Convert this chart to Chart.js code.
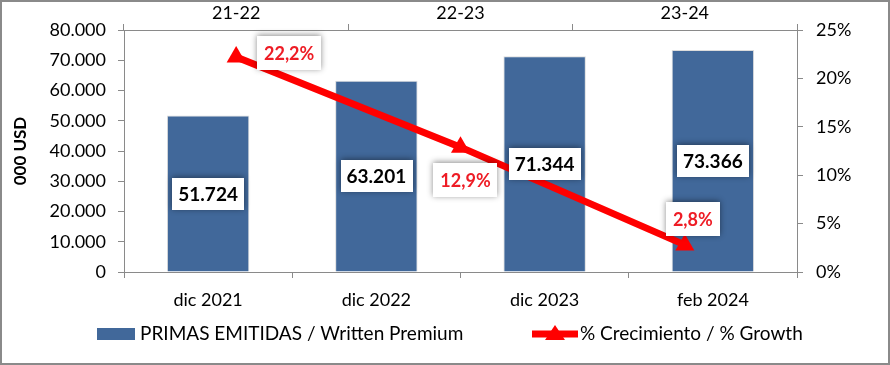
<!DOCTYPE html>
<html><head><meta charset="utf-8">
<script src="https://cdn.jsdelivr.net/npm/chart.js@4.4.1/dist/chart.umd.min.js"></script>
<style>html,body{margin:0;padding:0;background:#fff;overflow:hidden}canvas{display:block}</style>
</head><body>
<canvas id="c" width="890" height="365"></canvas>
<script>
// ---- data ----
const categories = ['dic 2021', 'dic 2022', 'dic 2023', 'feb 2024'];
const periods = ['21-22', '22-23', '23-24'];
const premiums = [51724, 63201, 71344, 73366];
const growth = [22.2, 12.9, 2.8];
const premiumLabel = 'PRIMAS EMITIDAS / Written Premium';
const growthLabel = '% Crecimiento / % Growth';
const yTitle = '000 USD';

// ---- style ----
const FONT = 'Lato';
const BAR_COLOR = '#41689A';
const LINE_COLOR = '#FF0000';
const LABEL_RED = '#EE1C25';
const AXIS_GRAY = '#8a8a8a';
const growthLabelOffsets = [[53, -4], [5, 33], [8, -26]];

Chart.defaults.font.family = FONT;
Chart.defaults.color = '#000';

const fmtThousands = v => String(Math.round(v)).replace(/\B(?=(\d{3})+(?!\d))/g, '.');
const fmtPct = v => v.toFixed(1).replace('.', ',') + '%';

function drawBox(ctx, text, cx, cy, color, font, padX, h) {
  ctx.save();
  ctx.font = font;
  const w = ctx.measureText(text).width + padX * 2;
  ctx.shadowColor = 'rgba(0,0,0,0.45)';
  ctx.shadowBlur = 6;
  ctx.shadowOffsetX = 0;
  ctx.shadowOffsetY = -1;
  ctx.fillStyle = '#fff';
  ctx.fillRect(Math.round(cx - w / 2), Math.round(cy - h / 2), Math.round(w), h);
  ctx.shadowColor = 'transparent';
  ctx.fillStyle = color;
  ctx.textAlign = 'center';
  ctx.textBaseline = 'middle';
  ctx.fillText(text, cx, cy + 1);
  ctx.restore();
}

const decor = {
  id: 'decor',
  beforeDraw(chart) {
    const ctx = chart.ctx;
    ctx.save();
    ctx.fillStyle = '#fff';
    ctx.fillRect(0, 0, chart.width, chart.height);
    ctx.restore();
  },
  afterDatasetsDraw(chart) {
    const ctx = chart.ctx;
    const barMeta = chart.getDatasetMeta(0);
    barMeta.data.forEach((el, i) => {
      const cy = (el.y + el.base) / 2;
      drawBox(ctx, fmtThousands(premiums[i]), el.x, cy, '#000', 'bold 19px ' + FONT, 6, 32);
    });
    const lineMeta = chart.getDatasetMeta(1);
    lineMeta.data.forEach((el, i) => {
      const o = growthLabelOffsets[i];
      drawBox(ctx, fmtPct(growth[i]), el.x + o[0], el.y + o[1], LABEL_RED, 'bold 18px ' + FONT, 7, 34);
    });
  },
  afterDraw(chart) {
    const ctx = chart.ctx;
    ctx.save();
    const ly = 334;
    ctx.fillStyle = BAR_COLOR;
    ctx.fillRect(97, ly - 6, 38, 12);
    ctx.fillStyle = '#000';
    ctx.font = '19px ' + FONT;
    ctx.textBaseline = 'middle';
    ctx.textAlign = 'left';
    ctx.fillText(premiumLabel, 140, ly);
    ctx.strokeStyle = LINE_COLOR;
    ctx.lineWidth = 7;
    ctx.beginPath();
    ctx.moveTo(532, ly); ctx.lineTo(578, ly); ctx.stroke();
    ctx.fillStyle = LINE_COLOR;
    ctx.beginPath();
    ctx.moveTo(555, ly - 9); ctx.lineTo(565, ly + 6); ctx.lineTo(545, ly + 6); ctx.closePath(); ctx.fill();
    ctx.fillStyle = '#000';
    ctx.fillText(growthLabel, 580, ly);
    ctx.strokeStyle = AXIS_GRAY;
    ctx.lineWidth = 2;
    ctx.strokeRect(1, 1, chart.width - 2, chart.height - 2);
    ctx.restore();
  }
};

new Chart(document.getElementById('c'), {
  type: 'bar',
  data: {
    labels: categories,
    datasets: [
      {
        type: 'bar',
        label: premiumLabel,
        data: premiums,
        backgroundColor: BAR_COLOR,
        borderColor: '#dcdcdc',
        borderWidth: 1,
        grouped: false,
        categoryPercentage: 1,
        barPercentage: 0.49,
        xAxisID: 'x',
        yAxisID: 'y',
        order: 2
      },
      {
        type: 'line',
        label: growthLabel,
        data: growth,
        borderColor: LINE_COLOR,
        backgroundColor: LINE_COLOR,
        borderWidth: 7,
        pointStyle: 'triangle',
        pointRadius: 11,
        pointBorderWidth: 0,
        pointBackgroundColor: LINE_COLOR,
        fill: false,
        tension: 0,
        xAxisID: 'x2',
        yAxisID: 'y1',
        order: 1
      }
    ]
  },
  options: {
    responsive: false,
    animation: false,
    devicePixelRatio: 1,
    layout: { padding: 0 },
    plugins: { legend: { display: false }, tooltip: { enabled: false } },
    scales: {
      x: {
        position: 'bottom',
        offset: true,
        grid: { display: true, drawOnChartArea: false, offset: true, color: AXIS_GRAY, tickLength: 6 },
        border: { display: true, color: AXIS_GRAY, width: 1 },
        ticks: { font: { size: 18 }, color: '#000', padding: 11, maxRotation: 0 },
        afterFit: s => { s.height = 93; }
      },
      x2: {
        type: 'category',
        position: 'top',
        labels: periods,
        offset: true,
        grid: { display: true, drawOnChartArea: false, offset: true, color: AXIS_GRAY, tickLength: 6 },
        border: { display: true, color: AXIS_GRAY, width: 1 },
        ticks: { font: { size: 18 }, color: '#000', padding: 0, maxRotation: 0 },
        afterFit: s => { s.height = 30; }
      },
      y: {
        position: 'left',
        min: 0, max: 80000,
        ticks: { stepSize: 10000, font: { size: 18 }, color: '#000', padding: 12, callback: v => fmtThousands(v) },
        grid: { display: true, drawOnChartArea: false, color: AXIS_GRAY, tickLength: 6 },
        border: { display: true, color: AXIS_GRAY, width: 1 },
        title: { display: true, text: yTitle, font: { size: 17, weight: 'bold' }, color: '#000', padding: { top: 10, bottom: 0 } },
        afterFit: s => { s.width = 124; }
      },
      y1: {
        position: 'right',
        min: 0, max: 25,
        ticks: { stepSize: 5, font: { size: 18 }, color: '#000', padding: 13, callback: v => v + '%' },
        grid: { display: true, drawOnChartArea: false, color: AXIS_GRAY, tickLength: 6 },
        border: { display: true, color: AXIS_GRAY, width: 1 },
        afterFit: s => { s.width = 93; }
      }
    }
  },
  plugins: [decor]
});
</script>
</body></html>
